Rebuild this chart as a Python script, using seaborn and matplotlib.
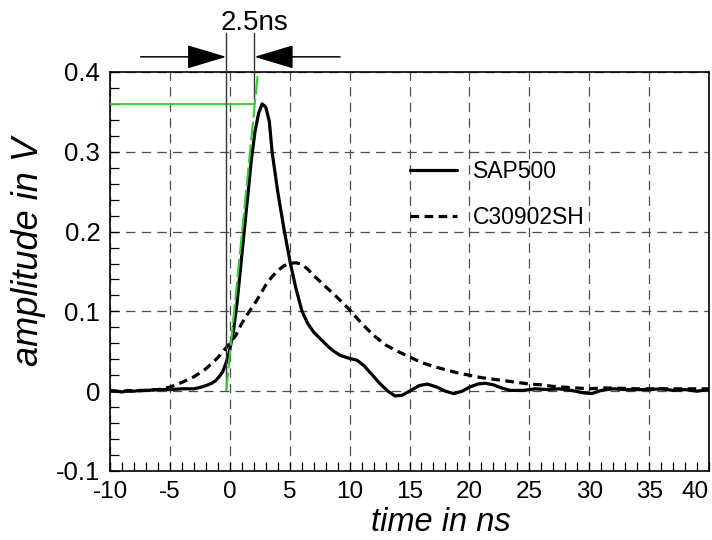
import matplotlib
matplotlib.use("Agg")
import matplotlib.pyplot as plt
import seaborn as sns
import numpy as np
import pandas as pd
from matplotlib.patches import FancyArrowPatch
from matplotlib.ticker import MultipleLocator, FixedLocator, FixedFormatter

# ---------------- data ----------------
sap_t = [-10, -9.5, -9, -8.5, -8, -7.5, -7, -6, -5, -4, -3, -2.4, -2, -1.5, -1.2, -0.9, -0.6,
         -0.3, 0, 0.3, 0.6, 1.0, 1.4, 1.8, 2.1, 2.4, 2.7, 3.0, 3.3, 3.53, 4.0, 4.56, 5.06, 5.5,
         6.03, 6.5, 7.0, 7.8, 8.5, 9.2, 10.0, 10.6, 11.2, 11.8, 12.5, 13.2, 13.8, 14.4, 15.0,
         15.8, 16.5, 17.3, 18.0, 18.7, 19.4, 20.0, 20.7, 21.3, 22.0, 22.7, 23.4, 24.5, 25.5,
         26.5, 27.5, 28.5, 29.5, 30.2, 31, 32, 33, 34, 35, 36, 37, 38, 39, 40]
sap_v = [0.001, 0.000, -0.001, 0.001, 0.000, 0.001, 0.001, 0.002, 0.002, 0.003, 0.003, 0.005,
         0.007, 0.010, 0.013, 0.018, 0.024, 0.036, 0.052, 0.075, 0.11, 0.17, 0.23, 0.29, 0.325,
         0.348, 0.36, 0.356, 0.338, 0.30, 0.25, 0.20, 0.16, 0.13, 0.10, 0.085, 0.074, 0.062,
         0.052, 0.045, 0.041, 0.039, 0.032, 0.022, 0.010, 0.000, -0.006, -0.005, 0.000, 0.007,
         0.009, 0.005, 0.000, -0.003, 0.000, 0.005, 0.009, 0.010, 0.008, 0.004, 0.001, 0.001,
         0.003, 0.002, 0.003, 0.001, -0.002, -0.003, 0.001, 0.003, 0.002, 0.002, 0.002, 0.003,
         0.001, 0.002, 0.000, 0.002]

c3_t = [-10, -8, -7, -6, -5, -4, -3, -2, -1, 0, 0.5, 1.0, 1.5, 2.0, 2.5, 3.0, 3.5, 4.0, 4.5,
        5.0, 5.5, 6.0, 6.5, 7.0, 8.0, 9.0, 10.0, 11, 12, 13, 14, 15, 16, 17, 18, 19, 20, 21,
        22, 23, 24, 25, 26, 27, 28, 29, 30, 31, 32, 34, 36, 38, 40]
c3_v = [0.0, 0.0, 0.001, 0.002, 0.005, 0.011, 0.018, 0.028, 0.042, 0.06, 0.07, 0.085, 0.097,
        0.108, 0.12, 0.133, 0.143, 0.151, 0.157, 0.16, 0.161, 0.159, 0.153, 0.145, 0.131,
        0.117, 0.102, 0.085, 0.07, 0.058, 0.05, 0.043, 0.036, 0.031, 0.027, 0.023, 0.02,
        0.017, 0.015, 0.013, 0.011, 0.009, 0.008, 0.006, 0.005, 0.004, 0.003, 0.004, 0.004,
        0.003, 0.003, 0.003, 0.003]

series_names = ["SAP500", "C30902SH"]
x_ticks = [-10, -5, 0, 5, 10, 15, 20, 25, 30, 35, 40]
x_tick_labels = ["-10", "-5", "0", "5", "10", "15", "20", "25", "30", "35", "40"]
y_ticks = [-0.1, 0, 0.1, 0.2, 0.3, 0.4]
y_tick_labels = ["-0.1", "0", "0.1", "0.2", "0.3", "0.4"]

# rise-time annotation (ns / V)
rise_start = -0.3
rise_end = 2.06
peak_level = 0.36
tangent_x = [-0.3, 2.35]
tangent_y = [0.0, 0.4]
rise_label = "2.5ns"

# ---------------- style ----------------
sns.set_theme(style="white")
plt.rcParams["font.family"] = ["Liberation Sans", "DejaVu Sans"]
plt.rcParams["axes.unicode_minus"] = False
plt.rcParams["text.color"] = "black"
plt.rcParams["axes.labelcolor"] = "black"
plt.rcParams["xtick.color"] = "black"
plt.rcParams["ytick.color"] = "black"

fig = plt.figure(figsize=(7.12, 5.4), dpi=100)
ax = fig.add_axes([110 / 712, 69 / 540, 599 / 712, 399 / 540])

df = pd.concat([
    pd.DataFrame({"t": sap_t, "v": sap_v, "s": series_names[0]}),
    pd.DataFrame({"t": c3_t, "v": c3_v, "s": series_names[1]}),
])

sns.lineplot(data=df, x="t", y="v", style="s", style_order=series_names,
             dashes={series_names[0]: "", series_names[1]: (2.7, 1.7)},
             color="black", linewidth=2.3, sort=False, ax=ax, legend=True, zorder=5)

ax.set_xlim(-10, 40)
ax.set_ylim(-0.1, 0.4)

ax.xaxis.set_major_locator(FixedLocator(x_ticks))
ax.xaxis.set_major_formatter(FixedFormatter(x_tick_labels))
ax.yaxis.set_major_locator(FixedLocator(y_ticks))
ax.yaxis.set_major_formatter(FixedFormatter(y_tick_labels))
ax.xaxis.set_minor_locator(MultipleLocator(1))
ax.yaxis.set_minor_locator(MultipleLocator(0.02))

ax.tick_params(which="both", direction="in", length=6.5, width=0.9, color="black",
               labelcolor="black", bottom=True, left=True, top=False, right=False)
ax.tick_params(axis="x", which="major", labelsize=17.5, pad=7)
ax.tick_params(axis="y", which="major", labelsize=18.5, pad=7)
fig.canvas.draw()
xl = ax.get_xticklabels()
xl[-1].set_horizontalalignment("right")

for s in ax.spines.values():
    s.set_color("black")
    s.set_linewidth(1.2)

ax.grid(True, which="major", color="#4d4d4d", linewidth=0.9,
        linestyle=(0, (7.5, 5)))
ax.set_axisbelow(True)

ax.set_xlabel("time in ns", fontsize=23.5, style="italic", color="black")
ax.set_ylabel("amplitude in V", fontsize=26, style="italic", color="black")
ax.xaxis.set_label_coords(0.553, -0.09)
ax.yaxis.set_label_coords(-0.107, 0.55)

leg = ax.legend(loc="upper left", bbox_to_anchor=(0.501, 0.78), frameon=False,
                fontsize=16.5, handlelength=2.05, handletextpad=0.7,
                labelspacing=1.0, borderpad=0, borderaxespad=0)
for t in leg.get_texts():
    t.set_color("black")

# annotation lines
green = "#33cc33"
ax.plot([-10, rise_end], [peak_level, peak_level], color=green, lw=1.3, zorder=6)
ax.plot(tangent_x, tangent_y, color=green, lw=1.5, ls=(0, (9, 2)), zorder=7, clip_on=False)
top_y = 0.449
ax.plot([rise_start, rise_start], [0, top_y], color="#333333", lw=1.0, clip_on=False, zorder=6)
ax.plot([rise_end, rise_end], [peak_level, top_y], color="#333333", lw=1.0, clip_on=False, zorder=6)

arrow_y = 0.419
for x0, x1 in [(-7.44, rise_start), (9.2, rise_end)]:
    arr = FancyArrowPatch((x0, arrow_y), (x1, arrow_y),
                          arrowstyle="-|>,head_length=2.5,head_width=0.75",
                          mutation_scale=10, color="black", lw=1.1,
                          shrinkA=0, shrinkB=0, clip_on=False)
    ax.add_patch(arr)

ax.text(rise_end, 0.462, rise_label, fontsize=20, color="black",
        ha="center", va="center", clip_on=False)

fig.savefig("out.png", dpi=100)
